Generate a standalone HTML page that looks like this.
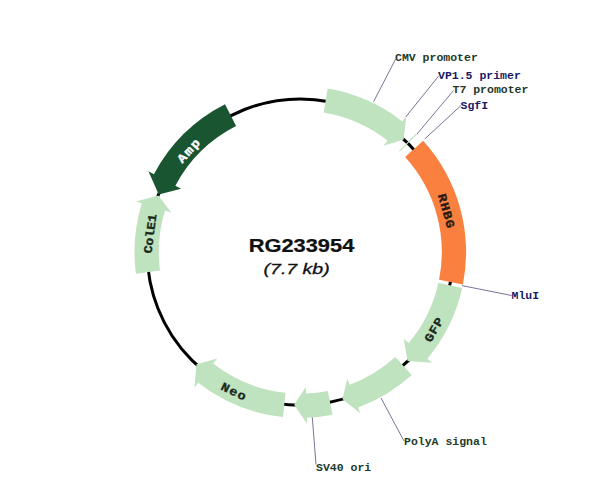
<!DOCTYPE html><html><head><meta charset="utf-8"><style>html,body{margin:0;padding:0;background:#fff;width:600px;height:504px;overflow:hidden}svg{display:block}</style></head><body>
<svg width="600" height="504" viewBox="0 0 600 504">
<circle cx="300.3" cy="252.1" r="153.1" fill="none" stroke="#000" stroke-width="3"/>
<path d="M327.66,88.57 A165.8,165.8 0 0 1 402.38,121.45 L406.19,116.56 L403.73,139.62 L383.41,145.72 L387.42,140.60 A141.5,141.5 0 0 0 323.65,112.54 Z" fill="#bfe2bf"/>
<path d="M416.10,133.44 A165.8,165.8 0 0 1 417.03,134.35 L399.92,151.61 A141.5,141.5 0 0 0 399.13,150.83 Z" fill="#bfe2bf"/>
<path d="M423.13,140.73 A165.8,165.8 0 0 1 462.89,284.59 L439.06,279.83 A141.5,141.5 0 0 0 405.12,157.05 Z" fill="#fa8040"/>
<path d="M462.17,287.99 A165.8,165.8 0 0 1 427.31,358.67 L432.06,362.66 L407.59,360.90 L403.72,338.88 L408.70,343.05 A141.5,141.5 0 0 0 438.45,282.73 Z" fill="#bfe2bf"/>
<path d="M411.67,374.93 A165.8,165.8 0 0 1 358.09,407.50 L360.25,413.31 L342.42,398.98 L347.36,378.63 L349.62,384.73 A141.5,141.5 0 0 0 395.35,356.92 Z" fill="#bfe2bf"/>
<path d="M332.50,414.74 A165.8,165.8 0 0 1 306.95,417.77 L307.20,423.96 L294.17,404.78 L305.72,386.99 L305.98,393.49 A141.5,141.5 0 0 0 327.78,390.91 Z" fill="#bfe2bf"/>
<path d="M282.97,416.99 A165.8,165.8 0 0 1 198.22,382.75 L194.41,387.64 L196.48,364.21 L217.19,358.48 L213.18,363.60 A141.5,141.5 0 0 0 285.51,392.82 Z" fill="#bfe2bf"/>
<path d="M135.92,273.74 A165.8,165.8 0 0 1 141.83,203.35 L135.90,201.53 L158.33,195.60 L171.27,212.40 L165.06,210.49 A141.5,141.5 0 0 0 160.01,270.57 Z" fill="#bfe2bf"/>
<path d="M225.03,104.37 A165.8,165.8 0 0 0 153.91,174.26 L148.43,171.35 L158.73,194.61 L181.10,188.72 L175.36,185.67 A141.5,141.5 0 0 1 236.06,126.02 Z" fill="#1a5532"/>
<g transform="translate(186.88 149.26) rotate(312.20) scale(1 0.900)"><text x="-9.80 0.00 9.80" y="3.20" fill="#ffffff" stroke="#ffffff" stroke-width="0.40" style="font-family:'Liberation Mono',serif;font-weight:bold;font-size:13.5px" text-anchor="middle" dominant-baseline="central">Amp</text></g>
<g transform="translate(148.34 233.44) rotate(277.00) scale(1 0.900)"><text x="-15.80 -7.90 0.00 7.90 15.80" y="3.20" fill="#1a2a1a" stroke="#1a2a1a" stroke-width="0.40" style="font-family:'Liberation Mono',serif;font-weight:bold;font-size:13.2px" text-anchor="middle" dominant-baseline="central">ColE1</text></g>
<g transform="translate(447.62 210.41) rotate(74.20) scale(1 0.900)"><text x="-13.50 -4.50 4.50 13.50" y="2.20" fill="#2a1a10" stroke="#2a1a10" stroke-width="0.40" style="font-family:'Liberation Mono',serif;font-weight:bold;font-size:13.5px" text-anchor="middle" dominant-baseline="central">RHBG</text></g>
<g transform="translate(432.62 329.11) rotate(-59.80) scale(1 0.900)"><text x="-8.90 0.00 8.90" y="2.20" fill="#1a2a1a" stroke="#1a2a1a" stroke-width="0.40" style="font-family:'Liberation Mono',serif;font-weight:bold;font-size:13.5px" text-anchor="middle" dominant-baseline="central">GFP</text></g>
<g transform="translate(234.15 390.17) rotate(25.60) scale(1 0.900)"><text x="-9.20 0.00 9.20" y="2.20" fill="#1a2a1a" stroke="#1a2a1a" stroke-width="0.40" style="font-family:'Liberation Mono',serif;font-weight:bold;font-size:13.5px" text-anchor="middle" dominant-baseline="central">Neo</text></g>
<line x1="373.6" y1="101.6" x2="395.7" y2="59.0" stroke="#76769a" stroke-width="1"/>
<line x1="405.7" y1="117.0" x2="438.5" y2="76.2" stroke="#76769a" stroke-width="1"/>
<line x1="417.0" y1="134.0" x2="453.5" y2="90.5" stroke="#76769a" stroke-width="1"/>
<line x1="424.7" y1="139.0" x2="461.0" y2="105.5" stroke="#76769a" stroke-width="1"/>
<line x1="462.0" y1="285.6" x2="511.5" y2="295.5" stroke="#76769a" stroke-width="1"/>
<line x1="381.0" y1="398.0" x2="404.0" y2="441.0" stroke="#76769a" stroke-width="1"/>
<line x1="312.3" y1="417.3" x2="316.0" y2="464.5" stroke="#76769a" stroke-width="1"/>
<text x="395.0" y="60.5" fill="#1e3a28" style="font-family:'Liberation Mono',monospace;font-weight:bold;font-size:11.5px">CMV promoter</text>
<text x="438.0" y="78.8" fill="#1a1a66" style="font-family:'Liberation Mono',monospace;font-weight:bold;font-size:11.5px">VP1.5 primer</text>
<text x="452.5" y="92.5" fill="#1e3a28" style="font-family:'Liberation Mono',monospace;font-weight:bold;font-size:11.5px">T7 promoter</text>
<text x="460.5" y="108.5" fill="#1a1a66" style="font-family:'Liberation Mono',monospace;font-weight:bold;font-size:11.5px">SgfI</text>
<text x="511.5" y="298.5" fill="#1a1a66" style="font-family:'Liberation Mono',monospace;font-weight:bold;font-size:11.5px">MluI</text>
<text x="404.0" y="444.8" fill="#1e3a28" style="font-family:'Liberation Mono',monospace;font-weight:bold;font-size:11.5px">PolyA signal</text>
<text x="316.0" y="470.5" fill="#1e3a28" style="font-family:'Liberation Mono',monospace;font-weight:bold;font-size:11.5px">SV40 ori</text>
<text x="0" y="0" transform="translate(301.5 251.6) scale(1.18 1)" fill="#111" stroke="#111" stroke-width="0.25" text-anchor="middle" style="font-family:'Liberation Sans',sans-serif;font-weight:bold;font-size:18.5px">RG233954</text>
<text x="0" y="0" transform="translate(296.6 274.3) scale(1.3 1)" fill="#111" stroke="#111" stroke-width="0.3" text-anchor="middle" style="font-family:'Liberation Sans',sans-serif;font-style:italic;font-size:15px">(7.7 kb)</text>
</svg></body></html>
